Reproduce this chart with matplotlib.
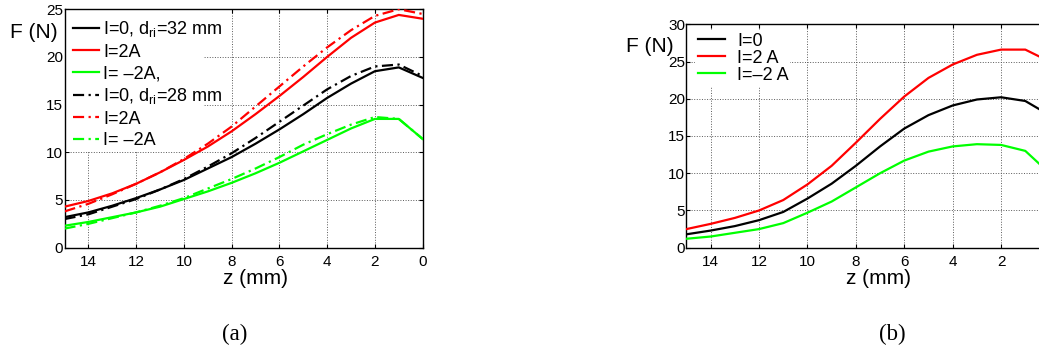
import matplotlib
matplotlib.use("Agg")
import matplotlib.pyplot as plt
from matplotlib.patches import Rectangle

plt.rcParams["font.family"] = ["Liberation Sans", "DejaVu Sans"]
plt.rcParams["mathtext.fontset"] = "custom"
plt.rcParams["mathtext.rm"] = "Liberation Sans"

# ── data ─────────────────────────────────────────────────────────
z = [15, 14, 13, 12, 11, 10, 9, 8, 7, 6, 5, 4, 3, 2, 1, 0]

# (a) d_ri = 32 mm (solid) and 28 mm (dash-dot)
a_i0_32 = [3.2, 3.7, 4.4, 5.2, 6.1, 7.1, 8.3, 9.5, 10.9, 12.4, 14.0, 15.7, 17.2, 18.5, 18.9, 17.8]
a_ip_32 = [4.3, 4.9, 5.7, 6.7, 7.9, 9.2, 10.6, 12.2, 14.0, 15.9, 17.9, 20.0, 22.0, 23.6, 24.4, 24.0]
a_im_32 = [2.3, 2.7, 3.2, 3.7, 4.3, 5.1, 5.9, 6.8, 7.8, 8.9, 10.1, 11.3, 12.5, 13.5, 13.5, 11.4]
a_i0_28 = [3.0, 3.5, 4.3, 5.1, 6.1, 7.2, 8.5, 9.9, 11.5, 13.2, 14.9, 16.6, 18.0, 19.0, 19.2, 18.0]
a_ip_28 = [3.8, 4.6, 5.6, 6.7, 7.9, 9.3, 10.9, 12.7, 14.8, 16.9, 19.0, 21.0, 22.8, 24.3, 25.0, 24.5]
a_im_28 = [2.0, 2.5, 3.1, 3.7, 4.4, 5.2, 6.2, 7.2, 8.3, 9.5, 10.8, 11.9, 12.9, 13.7, 13.5, 11.4]
a_labels = ["I=0, d$_{\\mathrm{ri}}$=32 mm", "I=2A", "I= \u20132A,",
            "I=0, d$_{\\mathrm{ri}}$=28 mm", "I=2A", "I= \u20132A"]

# (b)
b_i0 = [1.8, 2.3, 2.9, 3.7, 4.8, 6.6, 8.6, 11.0, 13.6, 16.0, 17.8, 19.1, 19.9, 20.2, 19.7, 17.8]
b_ip = [2.5, 3.2, 4.0, 5.0, 6.4, 8.5, 11.0, 14.1, 17.3, 20.3, 22.8, 24.6, 25.9, 26.6, 26.6, 25.0]
b_im = [1.2, 1.5, 2.0, 2.5, 3.3, 4.7, 6.2, 8.1, 10.0, 11.7, 12.9, 13.6, 13.9, 13.8, 13.0, 10.0]
b_labels = ["I=0", "I=2 A", "I=\u20132 A"]

xticks_a = [14, 12, 10, 8, 6, 4, 2, 0]
xticks_b = [14, 12, 10, 8, 6, 4, 2]
DD = (0, (5, 2, 1, 2))
LW = 1.6


def style_axes(ax, ymax, ystep, xticks):
    ax.set_xlim(15, 0)
    ax.set_ylim(0, ymax)
    ax.set_xticks(xticks)
    ax.set_yticks(range(0, ymax + 1, ystep))
    ax.set_axisbelow(True)
    ax.grid(True, color="0.35", linestyle=":", linewidth=0.7)
    ax.tick_params(direction="in", length=3, labelsize=11, top=True, right=True,
                   width=0.8)
    ax.tick_params(axis="x", pad=5)
    ax.tick_params(axis="y", pad=1)
    for s in ax.spines.values():
        s.set_linewidth(1.0)


fig = plt.figure(figsize=(10.39, 3.5), dpi=100)

# ── (a) ──────────────────────────────────────────────────────────
ax1 = fig.add_axes([0.0621, 0.2923, 0.3447, 0.6814])
style_axes(ax1, 25, 5, xticks_a)
ax1.add_patch(Rectangle((0, 0.401), 0.387, 0.599, transform=ax1.transAxes,
                        facecolor="white", edgecolor="none", zorder=1))
ax1.plot(z, a_i0_32, color="black", lw=LW, label=a_labels[0], zorder=3)
ax1.plot(z, a_ip_32, color="red", lw=LW, label=a_labels[1], zorder=3)
ax1.plot(z, a_im_32, color="#00ff00", lw=LW, label=a_labels[2], zorder=3)
ax1.plot(z, a_i0_28, color="black", lw=LW, ls=DD, label=a_labels[3], zorder=3)
ax1.plot(z, a_ip_28, color="red", lw=LW, ls=DD, label=a_labels[4], zorder=3)
ax1.plot(z, a_im_28, color="#00ff00", lw=LW, ls=DD, label=a_labels[5], zorder=3)
ax1.legend(loc="upper left", bbox_to_anchor=(0.024, 0.957), frameon=False,
           fontsize=13, handlelength=1.45, handletextpad=0.22, labelspacing=0.24,
           borderpad=0, borderaxespad=0)
fig.text(33.5 / 1039, 1 - 32 / 350, "F (N)", fontsize=15, ha="center", va="center")
fig.text(255.5 / 1039, 1 - 279 / 350, "z (mm)", fontsize=15, ha="center", va="center")
fig.text(235 / 1039, 1 - 334 / 350, "(a)", fontsize=16.5, ha="center", va="center",
         family="Liberation Serif")

# ── (b) ──────────────────────────────────────────────────────────
ax2 = fig.add_axes([0.6607, 0.2923, 0.3494, 0.6383])
style_axes(ax2, 30, 5, xticks_b)
ax2.add_patch(Rectangle((0.023, 0.719), 0.262, 0.255, transform=ax2.transAxes,
                        facecolor="white", edgecolor="none", zorder=1))
ax2.plot(z, b_i0, color="black", lw=LW, label=b_labels[0], zorder=3)
ax2.plot(z, b_ip, color="red", lw=LW, label=b_labels[1], zorder=3)
ax2.plot(z, b_im, color="#00ff00", lw=LW, label=b_labels[2], zorder=3)
ax2.legend(loc="upper left", bbox_to_anchor=(0.032, 0.962), frameon=False,
           fontsize=13, handlelength=1.5, handletextpad=0.67, labelspacing=0.0,
           borderpad=0, borderaxespad=0)
fig.text(650 / 1039, 1 - 46 / 350, "F (N)", fontsize=15, ha="center", va="center")
fig.text(879 / 1039, 1 - 279 / 350, "z (mm)", fontsize=15, ha="center", va="center")
fig.text(892 / 1039, 1 - 334 / 350, "(b)", fontsize=16.5, ha="center", va="center",
         family="Liberation Serif")

fig.savefig("out.png", dpi=100)
